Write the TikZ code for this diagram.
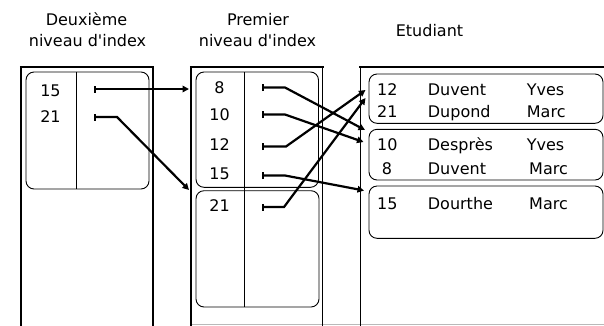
\documentclass[tikz,border=0pt]{standalone}
\usepackage{fontspec}
\setmainfont{DejaVu Sans}[Ligatures=TeXOff]
\usetikzlibrary{arrows.meta}
\begin{document}
\begin{tikzpicture}[x=1pt,y=-1pt,
  txt/.style={inner sep=0pt, font=\fontsize{16}{19}\selectfont},
  lt/.style={txt, anchor=base west},
  ct/.style={txt, anchor=base},
  outerside/.style={line width=1.2pt},
  outertop/.style={line width=2.6pt},
  inner/.style={line width=0.9pt, rounded corners=8pt},
  divider/.style={line width=0.9pt},
  ptr/.style={line width=2.2pt, {Bar[width=7pt,line width=2pt]}-{Triangle[length=6.5pt,width=6.5pt]}}
]
\useasboundingbox (0,0) rectangle (604,325);

% titles
\node[ct] (t1a) at (86.5,25) {Deuxième};
\node[ct] (t1b) at (87.5,46.5) {niveau d'index};
\node[ct] (t2a) at (258,25) {Premier};
\node[ct] (t2b) at (257.5,46.5) {niveau d'index};
\node[ct] (t3) at (429.5,36) {Etudiant};

% faint bottom line
\draw[gray!55, line width=0.8pt] (191,324) -- (604,324);

% outer boxes
\draw[outerside] (21,330) -- (21,67) (153,67) -- (153,330);
\draw[outertop] (19.8,67) -- (154.2,67);
\draw[outerside] (191,330) -- (191,67) (322.7,67) -- (322.7,330);
\draw[outertop] (189.8,67) -- (323.9,67);
\draw[outerside] (360.5,330) -- (360.5,67);
\draw[outertop] (359.3,67) -- (610,67);

% left inner box
\draw[inner] (26,72) rectangle (149,189);
\draw[divider] (76,72) -- (76,189);
% middle inner boxes
\draw[inner] (196,72) rectangle (318.5,187.3);
\draw[inner] (196,190.7) rectangle (319,307);
\draw[divider] (244.5,72) -- (244.5,307);
% right inner boxes
\draw[inner] (369,74) rectangle (603,123.3);
\draw[inner] (369,129.3) rectangle (603,180);
\draw[inner] (369,186) rectangle (603,238.3);

% left box keys
\node[ct] (l15) at (50.5,96.5) {15};
\node[ct] (l21) at (50.5,122.5) {21};
% middle box keys
\node[ct] (m8)  at (219.5,93) {8};
\node[ct] (m10) at (219.5,120.5) {10};
\node[ct] (m12) at (219.5,150.5) {12};
\node[ct] (m15) at (219.5,179) {15};
\node[ct] (m21) at (219.5,211.5) {21};

% student rows
\node[lt] (r1a) at (377,95.3) {12};
\node[lt] (r1b) at (427.7,95.3) {Duvent};
\node[lt] (r1c) at (526.7,95.3) {Yves};
\node[lt] (r2a) at (377,117.3) {21};
\node[lt] (r2b) at (427.7,117.3) {Dupond};
\node[lt] (r2c) at (526.7,117.3) {Marc};
\node[lt] (r3a) at (377,150.7) {10};
\node[lt] (r3b) at (427.7,150.7) {Desprès};
\node[lt] (r3c) at (526.7,150.7) {Yves};
\node[lt] (r4a) at (381.7,174) {8};
\node[lt] (r4b) at (427.7,174) {Duvent};
\node[lt] (r4c) at (529,174) {Marc};
\node[lt] (r5a) at (377,209.3) {15};
\node[lt] (r5b) at (427.7,209.3) {Dourthe};
\node[lt] (r5c) at (529,209.3) {Marc};

% pointer start points
\coordinate (pl15) at (94,89);
\coordinate (pl21) at (94,117);
\coordinate (pm8)  at (262,87.5);
\coordinate (pm10) at (262,114.5);
\coordinate (pm12) at (262,146.5);
\coordinate (pm15) at (262,175.5);
\coordinate (pm21) at (262,207);
% pointer targets
\coordinate (tp1) at (189,89);
\coordinate (tp2) at (189,190);
\coordinate (tb1a) at (365.5,90);
\coordinate (tb1b) at (365.5,98);
\coordinate (tb2a) at (365,130);
\coordinate (tb2b) at (363.5,142);
\coordinate (tb3) at (364,190.5);

% pointers
\draw[ptr] (pl15) -- (tp1);
\draw[ptr] (pl21) -- ++(23,0) -- (tp2);
\draw[ptr] (pm8)  -- ++(23,0) -- (tb2a);
\draw[ptr] (pm10) -- ++(23,0) -- (tb2b);
\draw[ptr] (pm12) -- ++(24,0) -- (tb1a);
\draw[ptr] (pm15) -- ++(23,0) -- (tb3);
\draw[ptr] (pm21) -- ++(22,0) -- (tb1b);
\end{tikzpicture}
\end{document}
